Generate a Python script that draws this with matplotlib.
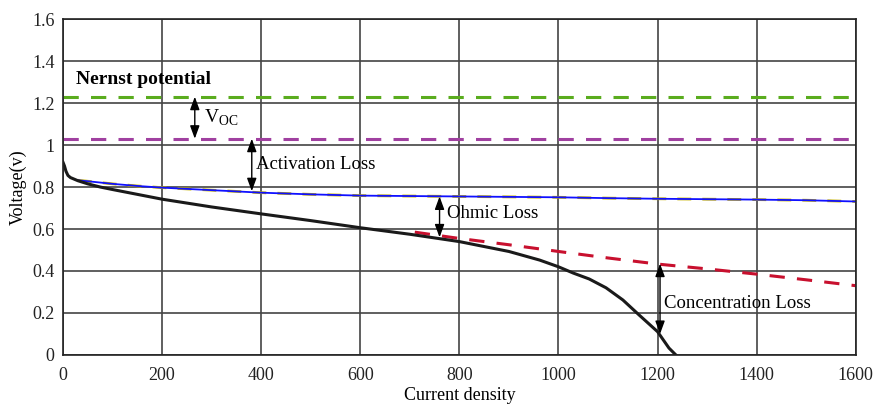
import numpy as np
import matplotlib.pyplot as plt

plt.rcParams['font.family'] = ['Liberation Serif', 'DejaVu Serif']

# data
nernst = 1.23
v_oc = 1.03

act_i = [30, 60, 100, 150, 200, 300, 400, 500, 600, 700, 800, 900, 1000,
         1100, 1200, 1300, 1400, 1500, 1600]
act_v = [0.832, 0.825, 0.815, 0.805, 0.797, 0.785, 0.773, 0.765, 0.759, 0.757,
         0.755, 0.753, 0.751, 0.747, 0.744, 0.742, 0.740, 0.737, 0.731]

ohm_i = [710, 800, 900, 1000, 1100, 1200, 1300, 1400, 1500, 1600]
ohm_v = [0.585, 0.555, 0.525, 0.493, 0.462, 0.433, 0.410, 0.385, 0.358, 0.330]

cell_i = [0, 3, 6, 10, 15, 20, 30, 50, 75, 100, 150, 200, 300, 400, 500, 600,
          700, 800, 900, 962, 1000, 1030, 1062, 1096, 1130, 1163, 1200, 1223,
          1237]
cell_v = [0.918, 0.90, 0.875, 0.855, 0.845, 0.840, 0.830, 0.815, 0.800, 0.788,
          0.765, 0.742, 0.705, 0.672, 0.640, 0.606, 0.575, 0.540, 0.493, 0.452,
          0.420, 0.390, 0.362, 0.320, 0.262, 0.190, 0.111, 0.033, 0.0]

fig = plt.figure(figsize=(8.75, 4.05), dpi=100)
ax = fig.add_axes([0.072, 0.1235, 0.906, 0.8295])

ax.axhline(nernst, color='#5aac1e', lw=2.2, ls=(0, (5, 4)))
ax.axhline(v_oc, color='#a040a0', lw=2.2, ls=(0, (5, 4)))
ax.plot(act_i, act_v, color='#c8b400', lw=2.0, ls=(0, (5, 4)))
ax.plot(act_i, act_v, color='#1010ff', lw=1.3)
ax.plot(ohm_i, ohm_v, color='#c8102e', lw=2.2, ls=(0, (5, 4)))
ax.plot(cell_i, cell_v, color='#1a1a1a', lw=2.2)

# double-headed loss arrows
arrow = dict(arrowstyle='<|-|>,head_length=0.6,head_width=0.22', color='black',
             lw=1.0, mutation_scale=13, shrinkA=0, shrinkB=0)
ax.annotate('', xy=(266, 1.03), xytext=(266, 1.23), arrowprops=arrow)
ax.annotate('', xy=(381, 0.78), xytext=(381, 1.03), arrowprops=arrow)
ax.annotate('', xy=(760, 0.56), xytext=(760, 0.755), arrowprops=arrow)
ax.annotate('', xy=(1205, 0.10), xytext=(1205, 0.435), arrowprops=arrow)

ax.text(285, 1.13, r'V$_{\mathregular{OC}}$', fontsize=14, va='center')
ax.text(390, 0.905, 'Activation Loss', fontsize=13.5, va='center')
ax.text(775, 0.675, 'Ohmic Loss', fontsize=13.5, va='center')
ax.text(1213, 0.245, 'Concentration Loss', fontsize=13.5, va='center')
ax.text(26, 1.31, 'Nernst potential', fontsize=14, fontweight='bold', va='center')

ax.set_xlim(0, 1600)
ax.set_ylim(0, 1.6)
ax.set_xticks(np.arange(0, 1601, 200))
ax.set_yticks(np.arange(0, 1.61, 0.2))
ax.set_yticklabels(['0', '0.2', '0.4', '0.6', '0.8', '1', '1.2', '1.4', '1.6'])
ax.tick_params(length=0, labelsize=13, colors='#222222')
ax.tick_params(axis='x', pad=9)
ax.tick_params(axis='y', pad=6)
ax.grid(True, color='#444444', lw=1.2)
for s in ax.spines.values():
    s.set_color('#222222')
    s.set_linewidth(1.2)

ax.set_xlabel('Current density', fontsize=13, labelpad=2)
ax.set_ylabel('Voltage(v)', fontsize=13, labelpad=4)

fig.savefig('out.png', dpi=100)
